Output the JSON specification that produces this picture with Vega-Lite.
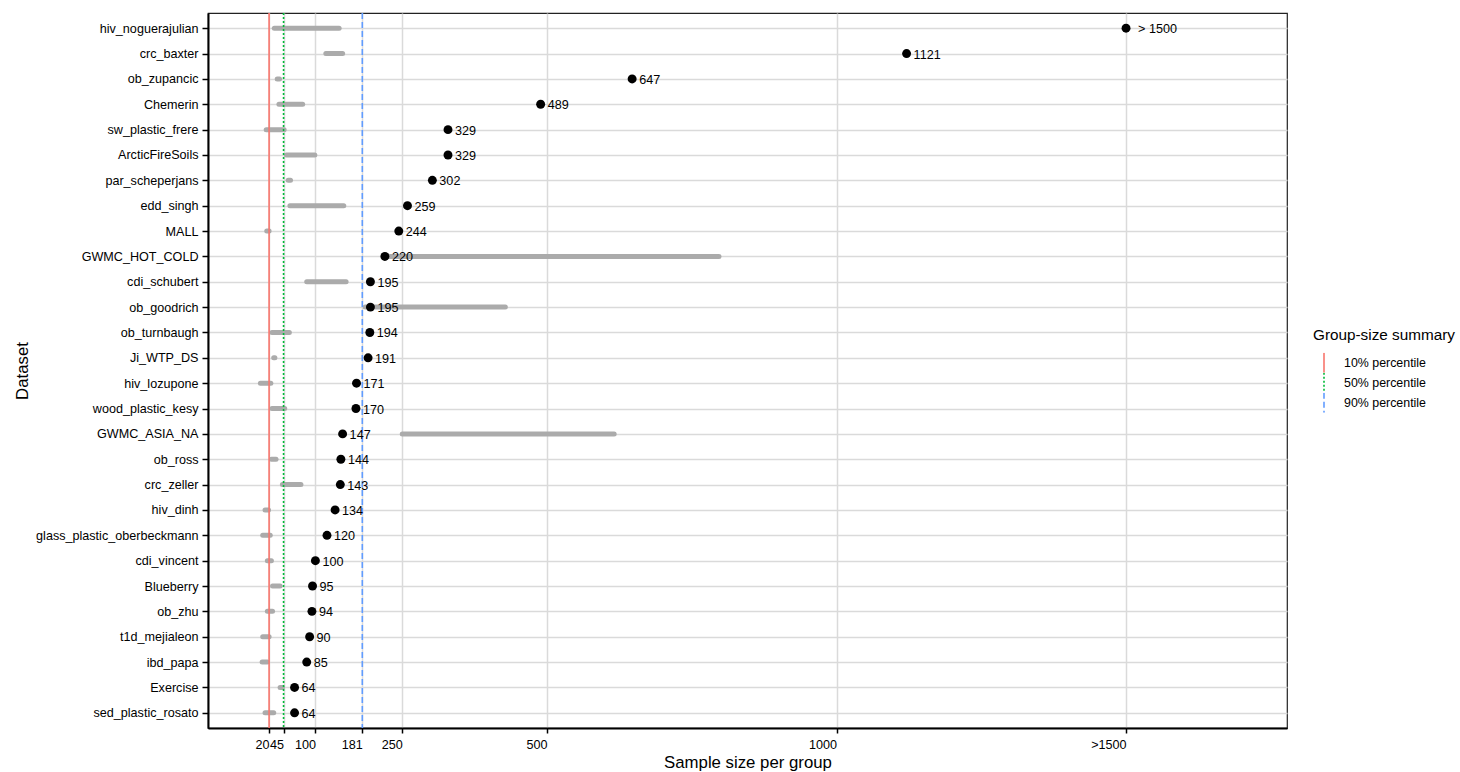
{
  "$schema": "https://vega.github.io/schema/vega-lite/v6.json",
  "width": 1079,
  "height": 715,
  "autosize": {"type": "none"},
  "padding": {"left": 208, "top": 13, "right": 173, "bottom": 44},
  "config": {
    "font": "Liberation Sans",
    "view": {"stroke": "#222222", "strokeWidth": 1.2}
  },
  "datasets": {
    "main": [
      {"dataset": "hiv_noguerajulian", "n": 1500, "label": "> 1500", "lo": 29, "hi": 141},
      {"dataset": "crc_baxter", "n": 1121, "label": "1121", "lo": 118, "hi": 147},
      {"dataset": "ob_zupancic", "n": 647, "label": "647", "lo": 34, "hi": 38},
      {"dataset": "Chemerin", "n": 489, "label": "489", "lo": 37, "hi": 78},
      {"dataset": "sw_plastic_frere", "n": 329, "label": "329", "lo": 15, "hi": 46},
      {"dataset": "ArcticFireSoils", "n": 329, "label": "329", "lo": 50, "hi": 99},
      {"dataset": "par_scheperjans", "n": 302, "label": "302", "lo": 53, "hi": 57},
      {"dataset": "edd_singh", "n": 259, "label": "259", "lo": 56, "hi": 149},
      {"dataset": "MALL", "n": 244, "label": "244", "lo": 16, "hi": 20},
      {"dataset": "GWMC_HOT_COLD", "n": 220, "label": "220", "lo": 225, "hi": 797},
      {"dataset": "cdi_schubert", "n": 195, "label": "195", "lo": 85, "hi": 153},
      {"dataset": "ob_goodrich", "n": 195, "label": "195", "lo": 186, "hi": 428},
      {"dataset": "ob_turnbaugh", "n": 194, "label": "194", "lo": 25, "hi": 55},
      {"dataset": "Ji_WTP_DS", "n": 191, "label": "191", "lo": 28, "hi": 30},
      {"dataset": "hiv_lozupone", "n": 171, "label": "171", "lo": 5, "hi": 23},
      {"dataset": "wood_plastic_kesy", "n": 170, "label": "170", "lo": 25, "hi": 47},
      {"dataset": "GWMC_ASIA_NA", "n": 147, "label": "147", "lo": 250, "hi": 616},
      {"dataset": "ob_ross", "n": 144, "label": "144", "lo": 24, "hi": 32},
      {"dataset": "crc_zeller", "n": 143, "label": "143", "lo": 43, "hi": 75},
      {"dataset": "hiv_dinh", "n": 134, "label": "134", "lo": 13, "hi": 19},
      {"dataset": "glass_plastic_oberbeckmann", "n": 120, "label": "120", "lo": 9, "hi": 22},
      {"dataset": "cdi_vincent", "n": 100, "label": "100", "lo": 17, "hi": 24},
      {"dataset": "Blueberry", "n": 95, "label": "95", "lo": 26, "hi": 39},
      {"dataset": "ob_zhu", "n": 94, "label": "94", "lo": 17, "hi": 26},
      {"dataset": "t1d_mejialeon", "n": 90, "label": "90", "lo": 9, "hi": 20},
      {"dataset": "ibd_papa", "n": 85, "label": "85", "lo": 8, "hi": 17},
      {"dataset": "Exercise", "n": 64, "label": "64", "lo": 39, "hi": 43},
      {"dataset": "sed_plastic_rosato", "n": 64, "label": "64", "lo": 13, "hi": 28}
    ],
    "pct": [
      {"summary": "10% percentile", "value": 20},
      {"summary": "50% percentile", "value": 45},
      {"summary": "90% percentile", "value": 181}
    ]
  },
  "layer": [
    {
      "data": {"name": "main"},
      "mark": {"type": "rule", "strokeWidth": 5, "strokeCap": "round", "color": "#ABABAB"},
      "encoding": {
        "y": {
          "field": "dataset", "type": "nominal",
          "sort": ["hiv_noguerajulian","crc_baxter","ob_zupancic","Chemerin","sw_plastic_frere","ArcticFireSoils","par_scheperjans","edd_singh","MALL","GWMC_HOT_COLD","cdi_schubert","ob_goodrich","ob_turnbaugh","Ji_WTP_DS","hiv_lozupone","wood_plastic_kesy","GWMC_ASIA_NA","ob_ross","crc_zeller","hiv_dinh","glass_plastic_oberbeckmann","cdi_vincent","Blueberry","ob_zhu","t1d_mejialeon","ibd_papa","Exercise","sed_plastic_rosato"],
          "scale": {"type": "point", "padding": 0.6},
          "axis": {
            "title": "Dataset", "titleFontSize": 16.8, "titleFontWeight": "normal", "titleColor": "black",
            "titleX": -181, "titleBaseline": "alphabetic",
            "labelFontSize": 12.6, "labelColor": "black", "labelPadding": 4,
            "tickSize": 6, "tickWidth": 1.5, "tickColor": "black",
            "domainColor": "black", "domainWidth": 2,
            "grid": true, "gridColor": "#DADADA", "gridWidth": 1.6
          }
        },
        "x": {
          "field": "lo", "type": "quantitative",
          "scale": {"domain": [-85.5, 1778], "nice": false, "zero": false},
          "axis": {
            "title": "Sample size per group", "titleFontSize": 16.8, "titleFontWeight": "normal", "titleColor": "black", "titlePadding": 4,
            "values": [20, 45, 100, 181, 250, 500, 1000, 1500],
            "format": "d",
            "labelExpr": "datum.value == 1500 ? '>1500' : datum.label",
            "labelAlign": "right", "labelFontSize": 12.6, "labelColor": "black",
            "labelOverlap": false, "labelFlush": false, "labelPadding": 5,
            "tickSize": 5, "tickWidth": 1.5, "tickColor": "black",
            "domainColor": "black", "domainWidth": 2,
            "grid": true, "gridColor": "#DADADA", "gridWidth": 1.5
          }
        },
        "x2": {"field": "hi"}
      }
    },
    {
      "data": {"name": "pct"},
      "mark": {"type": "rule", "strokeWidth": 1.6},
      "encoding": {
        "x": {"field": "value", "type": "quantitative", "axis": {"title": "Sample size per group"}},
        "color": {
          "field": "summary", "type": "nominal",
          "scale": {"domain": ["10% percentile", "50% percentile", "90% percentile"], "range": ["#F8766D", "#00BA38", "#619CFF"]},
          "legend": {
            "title": "Group-size summary", "orient": "none", "legendX": 1105, "legendY": 315,
            "symbolType": "M0,-1L0,1", "symbolSize": 400, "symbolStrokeWidth": 1.6, "clipHeight": 20,
            "labelFontSize": 12.4, "labelColor": "black", "labelOffset": 9,
            "titleFontSize": 15.3, "titleFontWeight": "normal", "titleColor": "black", "titlePadding": 9.5,
            "padding": 0, "rowPadding": 0
          }
        },
        "strokeDash": {
          "field": "summary", "type": "nominal",
          "scale": {"domain": ["10% percentile", "50% percentile", "90% percentile"], "range": [[1, 0], [2, 2], [6, 3]]},
          "legend": {
            "title": "Group-size summary", "orient": "none", "legendX": 1105, "legendY": 315,
            "symbolType": "M0,-1L0,1", "symbolSize": 400, "symbolStrokeWidth": 1.6, "clipHeight": 20,
            "labelFontSize": 12.4, "labelColor": "black", "labelOffset": 9,
            "titleFontSize": 15.3, "titleFontWeight": "normal", "titleColor": "black", "titlePadding": 9.5,
            "padding": 0, "rowPadding": 0
          }
        }
      }
    },
    {
      "data": {"name": "main"},
      "mark": {"type": "circle", "size": 80, "color": "black", "opacity": 1},
      "encoding": {
        "y": {"field": "dataset", "type": "nominal", "sort": ["hiv_noguerajulian","crc_baxter","ob_zupancic","Chemerin","sw_plastic_frere","ArcticFireSoils","par_scheperjans","edd_singh","MALL","GWMC_HOT_COLD","cdi_schubert","ob_goodrich","ob_turnbaugh","Ji_WTP_DS","hiv_lozupone","wood_plastic_kesy","GWMC_ASIA_NA","ob_ross","crc_zeller","hiv_dinh","glass_plastic_oberbeckmann","cdi_vincent","Blueberry","ob_zhu","t1d_mejialeon","ibd_papa","Exercise","sed_plastic_rosato"]},
        "x": {"field": "n", "type": "quantitative", "axis": {"title": "Sample size per group"}}
      }
    },
    {
      "data": {"name": "main"},
      "transform": [{"filter": "datum.dataset != 'hiv_noguerajulian'"}],
      "mark": {"type": "text", "align": "left", "baseline": "middle", "dx": 7, "dy": 1, "fontSize": 12.6, "color": "black"},
      "encoding": {
        "y": {"field": "dataset", "type": "nominal", "sort": ["hiv_noguerajulian","crc_baxter","ob_zupancic","Chemerin","sw_plastic_frere","ArcticFireSoils","par_scheperjans","edd_singh","MALL","GWMC_HOT_COLD","cdi_schubert","ob_goodrich","ob_turnbaugh","Ji_WTP_DS","hiv_lozupone","wood_plastic_kesy","GWMC_ASIA_NA","ob_ross","crc_zeller","hiv_dinh","glass_plastic_oberbeckmann","cdi_vincent","Blueberry","ob_zhu","t1d_mejialeon","ibd_papa","Exercise","sed_plastic_rosato"]},
        "x": {"field": "n", "type": "quantitative", "axis": {"title": "Sample size per group"}},
        "text": {"field": "label", "type": "nominal"}
      }
    },
    {
      "data": {"name": "main"},
      "transform": [{"filter": "datum.dataset == 'hiv_noguerajulian'"}],
      "mark": {"type": "text", "align": "left", "baseline": "middle", "dx": 12, "dy": 1, "fontSize": 12.6, "color": "black"},
      "encoding": {
        "y": {"field": "dataset", "type": "nominal", "sort": ["hiv_noguerajulian","crc_baxter","ob_zupancic","Chemerin","sw_plastic_frere","ArcticFireSoils","par_scheperjans","edd_singh","MALL","GWMC_HOT_COLD","cdi_schubert","ob_goodrich","ob_turnbaugh","Ji_WTP_DS","hiv_lozupone","wood_plastic_kesy","GWMC_ASIA_NA","ob_ross","crc_zeller","hiv_dinh","glass_plastic_oberbeckmann","cdi_vincent","Blueberry","ob_zhu","t1d_mejialeon","ibd_papa","Exercise","sed_plastic_rosato"]},
        "x": {"field": "n", "type": "quantitative", "axis": {"title": "Sample size per group"}},
        "text": {"field": "label", "type": "nominal"}
      }
    }
  ]
}
